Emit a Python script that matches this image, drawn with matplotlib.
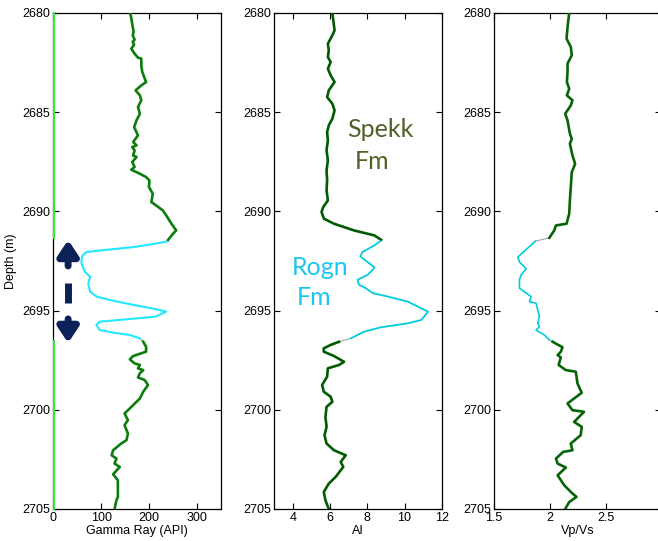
import matplotlib
matplotlib.use("Agg")
import matplotlib.pyplot as plt
import numpy as np

plt.rcParams['font.family'] = ['Liberation Sans', 'DejaVu Sans']

# ---------------- Gamma ray ----------------
gr_up_d = [2680.00, 2680.54, 2680.96, 2681.13, 2681.34, 2681.46, 2681.60, 2681.80, 2682.05, 2682.25,
           2682.30, 2682.64, 2682.97, 2683.48, 2683.65, 2683.90, 2684.15, 2684.40, 2684.74, 2685.08,
           2685.41, 2685.75, 2686.17, 2686.50, 2686.67, 2686.76, 2686.92, 2687.18, 2687.26, 2687.51,
           2687.76, 2687.90, 2688.10, 2688.27, 2688.44, 2688.77, 2689.11, 2689.53, 2689.70, 2689.95,
           2690.20, 2690.62, 2690.96, 2691.13, 2691.44]
gr_up_v = [161, 165, 168, 166, 170, 166, 169, 163, 170, 177,
           184, 184, 186, 194, 184, 172, 181, 184, 177, 181,
           174, 169, 177, 167, 174, 165, 170, 167, 174, 165,
           170, 163, 181, 194, 201, 200, 208, 205, 215, 229,
           236, 247, 257, 250, 240]
gr_mid_d = [2691.53, 2691.68, 2691.80, 2691.97, 2692.05, 2692.22, 2692.47, 2692.62, 2692.80, 2693.04,
            2693.29, 2693.63, 2694.05, 2694.30, 2694.47, 2694.60, 2694.71, 2694.93, 2695.05, 2695.30,
            2695.44, 2695.56, 2695.72, 2695.98, 2696.11, 2696.23, 2696.40]
gr_mid_v = [236, 200, 167, 97, 69, 61, 59, 59, 62, 66,
            77, 73, 77, 91, 119, 145, 167, 215, 236, 215,
            153, 97, 90, 97, 125, 160, 181]
gr_lo_d = [2696.57, 2696.82, 2697.07, 2697.29, 2697.46, 2697.66, 2697.74, 2697.91, 2698.00, 2698.16,
           2698.37, 2698.50, 2698.75, 2699.09, 2699.43, 2699.76, 2700.19, 2700.52, 2700.77, 2701.20,
           2701.53, 2701.70, 2702.04, 2702.29, 2702.46, 2702.71, 2702.88, 2703.25, 2703.55, 2704.39,
           2704.56, 2705.00]
gr_lo_v = [188, 194, 194, 167, 160, 170, 181, 177, 188, 181,
           177, 191, 198, 188, 181, 167, 149, 156, 149, 156,
           153, 142, 125, 122, 132, 128, 139, 125, 135, 135,
           132, 128]

# ---------------- Acoustic impedance ----------------
ai_up_d = [2680.00, 2680.37, 2680.87, 2681.13, 2681.55, 2681.88, 2682.22, 2682.47, 2682.81, 2683.14,
           2683.48, 2683.90, 2684.24, 2684.57, 2684.91, 2685.33, 2685.66, 2686.00, 2686.42, 2686.92,
           2687.43, 2687.93, 2688.44, 2688.94, 2689.45, 2689.78, 2690.03, 2690.37, 2690.62, 2690.96,
           2691.21, 2691.43]
ai_up_v = [6.12, 6.17, 6.24, 6.12, 5.88, 5.93, 5.88, 6.03, 5.88, 6.03,
           6.24, 5.93, 5.84, 6.12, 6.24, 6.12, 5.93, 5.84, 5.88, 5.81,
           5.88, 5.81, 5.84, 5.81, 5.88, 5.63, 5.54, 5.67, 6.21, 7.29,
           8.38, 8.74]
ai_mid_d = [2691.50, 2691.71, 2692.05, 2692.27, 2692.55, 2692.81, 2692.95, 2693.20, 2693.45, 2693.70,
            2693.87, 2694.12, 2694.29, 2694.55, 2694.97, 2695.05, 2695.47, 2695.64, 2695.84, 2696.06,
            2696.40]
ai_mid_v = [8.70, 8.38, 7.74, 7.62, 8.01, 8.38, 8.29, 8.01, 7.47, 7.56,
            7.92, 8.29, 9.10, 10.18, 11.09, 11.27, 10.91, 10.18, 8.74, 7.83,
            7.11]
ai_lo_d = [2696.57, 2696.73, 2696.90, 2697.07, 2697.29, 2697.58, 2697.74, 2697.91, 2698.33, 2698.75,
           2699.09, 2699.34, 2699.60, 2699.85, 2700.35, 2700.86, 2701.28, 2701.70, 2702.04, 2702.29,
           2702.63, 2702.88, 2703.38, 2703.72, 2704.14, 2704.56, 2705.00]
ai_lo_v = [6.48, 6.03, 5.66, 5.66, 6.21, 6.75, 6.48, 5.88, 5.84, 5.57,
           5.66, 6.03, 6.12, 5.81, 5.75, 5.81, 5.70, 5.81, 6.21, 6.84,
           6.57, 6.71, 6.30, 5.93, 5.66, 5.75, 5.93]

# ---------------- Vp/Vs ----------------
vr_up_d = [2680.00, 2680.71, 2681.29, 2681.71, 2682.13, 2682.55, 2682.97, 2683.48, 2683.82, 2684.15,
           2684.40, 2684.66, 2685.08, 2685.41, 2686.08, 2686.34, 2686.59, 2687.18, 2687.60, 2688.02,
           2688.77, 2689.45, 2690.12, 2690.62, 2690.71, 2690.96, 2691.33]
vr_up_v = [2.174, 2.159, 2.150, 2.188, 2.197, 2.159, 2.159, 2.153, 2.174, 2.153,
           2.203, 2.188, 2.138, 2.159, 2.180, 2.197, 2.180, 2.203, 2.227, 2.197,
           2.188, 2.180, 2.174, 2.150, 2.055, 2.040, 1.996]
vr_mid_d = [2691.50, 2692.30, 2692.55, 2692.89, 2693.20, 2693.45, 2693.87, 2694.29, 2694.55, 2694.63,
            2695.30, 2695.64, 2695.81, 2695.98, 2696.23, 2696.48]
vr_mid_v = [1.871, 1.714, 1.728, 1.788, 1.743, 1.728, 1.728, 1.832, 1.818, 1.877,
            1.907, 1.892, 1.907, 1.877, 1.951, 1.996]
vr_lo_d = [2696.57, 2696.85, 2697.07, 2697.24, 2697.36, 2697.74, 2698.00, 2698.08, 2698.67, 2699.14,
           2699.68, 2700.02, 2700.10, 2700.61, 2700.86, 2701.28, 2701.70, 2702.04, 2702.12, 2702.46,
           2702.71, 2702.91, 2703.30, 2703.80, 2704.14, 2704.39, 2704.65, 2705.00]
vr_lo_v = [2.025, 2.114, 2.099, 2.070, 2.099, 2.079, 2.144, 2.233, 2.248, 2.286,
           2.159, 2.203, 2.307, 2.218, 2.286, 2.277, 2.188, 2.203, 2.120, 2.055,
           2.070, 2.144, 2.070, 2.129, 2.188, 2.239, 2.174, 2.138]

# baseline marker segments in GR track (depth ranges)
base_segs = [(2680.0, 2691.35), (2696.55, 2705.0)]

# arrows (depths) in GR track
arrow_x = 31
arrow_up = (2692.75, 2691.44)
arrow_dash = (2693.61, 2694.62)
arrow_down = (2695.42, 2696.63)

W, H = 658, 541
fig = plt.figure(figsize=(W / 100, H / 100), dpi=100)

bottom = (541 - 509) / H
height = (509 - 13) / H
width = 167.4 / W
lefts = [53.3 / W, 274.3 / W, 494.0 / W]

axes = [fig.add_axes([l, bottom, width, height]) for l in lefts]

tracks = [
    (axes[0], (gr_up_d, gr_up_v), (gr_mid_d, gr_mid_v), (gr_lo_d, gr_lo_v), '#0b7d0b', '#22e8ff', 1.5,
     (0, 350), [0, 100, 200, 300], 'Gamma Ray (API)'),
    (axes[1], (ai_up_d, ai_up_v), (ai_mid_d, ai_mid_v), (ai_lo_d, ai_lo_v), '#005a00', '#00ccdd', 1.3,
     (3, 12), [4, 6, 8, 10, 12], 'AI'),
    (axes[2], (vr_up_d, vr_up_v), (vr_mid_d, vr_mid_v), (vr_lo_d, vr_lo_v), '#066406', '#00ccdd', 1.2,
     (1.5, 3), [1.5, 2, 2.5], 'Vp/Vs'),
]

for ax, up, mid, lo, gcol, ccol, clw, xlim, xt, xl in tracks:
    # thin gray connectors
    ax.plot([up[1][-1], mid[1][0]], [up[0][-1], mid[0][0]], color='#888888', lw=0.6, zorder=2)
    ax.plot([mid[1][-1], lo[1][0]], [mid[0][-1], lo[0][0]], color='#888888', lw=0.6, zorder=2)
    ax.plot(up[1], up[0], color=gcol, lw=1.9, zorder=3, solid_joinstyle='round')
    ax.plot(mid[1], mid[0], color=ccol, lw=clw, zorder=3, solid_joinstyle='round')
    ax.plot(lo[1], lo[0], color=gcol, lw=1.9, zorder=3, solid_joinstyle='round')
    ax.set_xlim(*xlim)
    ax.set_ylim(2705, 2680)
    ax.set_xticks(xt)
    ax.set_xticklabels([('%g' % t) for t in xt])
    ax.set_yticks([2680, 2685, 2690, 2695, 2700, 2705])
    ax.tick_params(direction='in', length=4, width=0.8, top=True, right=True,
                   labelsize=9, pad=2, colors='black')
    ax.set_xlabel(xl, fontsize=9, labelpad=1)
    for s in ax.spines.values():
        s.set_linewidth(0.9)

axes[0].set_ylabel('Depth (m)', fontsize=9, labelpad=4)

# lime baseline at zero GR
for d0, d1 in base_segs:
    axes[0].plot([0.6, 0.6], [d0, d1], color='#33ee33', lw=1.4, zorder=4, clip_on=False)

# arrows
navy = '#0b2158'
ax0 = axes[0]
for (d_from, d_to) in [arrow_up, arrow_down]:
    ax0.annotate('', xy=(arrow_x, d_to), xytext=(arrow_x, d_from),
                 arrowprops=dict(arrowstyle='-|>,head_length=0.9,head_width=0.6',
                                 color=navy, lw=5, shrinkA=0, shrinkB=0))
ax0.plot([arrow_x, arrow_x], list(arrow_dash), color=navy, lw=5, solid_capstyle='butt')

# formation labels
tfont = ['Lato', 'DejaVu Sans']
axes[1].text(6.91, 2686.25, 'Spekk', color='#4f6228', fontsize=18, family=tfont,
             ha='left', va='baseline')
axes[1].text(7.34, 2687.86, 'Fm', color='#4f6228', fontsize=18, family=tfont,
             ha='left', va='baseline')
axes[1].text(3.95, 2693.2, 'Rogn', color='#1ac6f0', fontsize=18, family=tfont,
             ha='left', va='baseline')
axes[1].text(4.22, 2694.72, 'Fm', color='#1ac6f0', fontsize=18, family=tfont,
             ha='left', va='baseline')

fig.savefig('out.png', dpi=100)
